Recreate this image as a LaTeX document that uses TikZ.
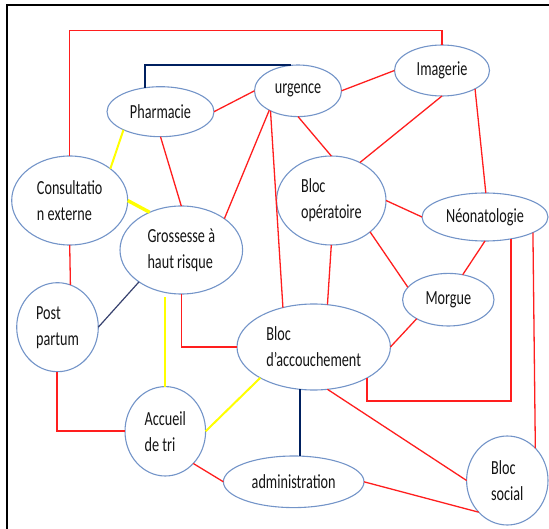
\documentclass[tikz,border=0pt]{standalone}
\usepackage{fontspec}
\setmainfont{Carlito}[FakeStretch=0.71]
\usetikzlibrary{shapes.geometric}
\definecolor{ellc}{RGB}{115,148,200}
\definecolor{redl}{RGB}{255,30,30}
\definecolor{navyl}{RGB}{0,32,96}
\definecolor{slatel}{RGB}{55,65,110}
\definecolor{yell}{RGB}{255,255,0}
\definecolor{txt}{RGB}{20,20,20}
\tikzset{
  ell/.style={ellipse, draw=ellc, line width=1.1pt, inner sep=0pt, outer sep=0pt,
    align=left, text=txt, font=\fontsize{20}{26}\selectfont},
  redline/.style={draw=redl, line width=1.3pt},
  navyline/.style={draw=navyl, line width=2.2pt},
  slateline/.style={draw=slatel, line width=1.2pt},
  yelline/.style={draw=yell, line width=2pt},
  yelthick/.style={draw=yell, line width=3.4pt},
  framel/.style={draw=black, line width=2pt}
}
\begin{document}
\begin{tikzpicture}[x=1pt,y=-1pt]
\useasboundingbox (0,0) rectangle (549,529);
% frame
\draw[framel] (7,529) -- (7,4.7) -- (549,4.7);
% nodes
\node[ell, minimum width=107pt, minimum height=50pt] (pharm) at (160.5,111.7) {Pharmacie};
\node[ell, minimum width=87pt, minimum height=51.6pt] (urg) at (298,90.8) {urgence};
\node[ell, minimum width=95pt, minimum height=51pt] (imag) at (442,70.5) {Imagerie};
\node[ell, minimum width=116pt, minimum height=89pt] (cons) at (69.7,200.5) {Consultatio\\n externe};
\node[ell, minimum width=122.6pt, minimum height=88pt] (gross) at (181.3,250) {Grossesse à\\haut risque};
\node[ell, minimum width=109.4pt, minimum height=89pt] (blocop) at (331.3,200.5) {Bloc\\opératoire};
\node[ell, minimum width=126pt, minimum height=48pt] (neo) at (485,217) {Néonatologie};
\node[ell, minimum width=91.4pt, minimum height=52.6pt] (morg) at (448.3,299.7) {Morgue};
\node[ell, minimum width=81.6pt, minimum height=89pt] (post) at (57.5,327.2) {Post\\partum};
\node[ell, minimum width=153.4pt, minimum height=86pt] (acc) at (313.7,347) {Bloc\\d’accouchement};
\node[ell, minimum width=80.6pt, minimum height=89.4pt] (accu) at (165.3,431.3) {Accueil\\de tri};
\node[ell, minimum width=140.6pt, minimum height=51.6pt] (admin) at (293.7,481.8) {administration};
\node[ell, minimum width=81.4pt, minimum height=89pt] (social) at (507.3,480.5) {Bloc\\social};
% connectors
\draw[redline] (cons.north) -- (cons.north |- 0,30.7) -| (imag.north);
\draw[navyline] (pharm.123) |- (urg.106);
\draw[redline] (pharm.east) -- (urg.west);
\draw[redline] (urg.east) -- (imag.west);
\draw[redline] (urg.214) -- (gross.36);
\draw[redline] (urg.216) -- (acc.128);
\draw[redline] (urg.south) -- (blocop.north);
\draw[redline] (imag.south) -- (blocop.53);
\draw[redline] (imag.-29) -- (neo.88);
\draw[yelline] (pharm.206) -- (cons.38);
\draw[redline] (pharm.south) -- (gross.north);
\draw[yelthick] (cons.east) -- (gross.130);
\draw[redline] (cons.south) -- (post.73);
\draw[slateline] (gross.217) -- (post.east);
\draw[redline] (gross.south) |- (acc.west);
\draw[yelline, shorten >=3pt] (accu.north) -- (accu.north |- gross.south);
\draw[redline] (blocop.south) -- (acc.72);
\draw[redline] (blocop.east) -- (neo.west);
\draw[redline] (blocop.-39.5) -- (morg.163);
\draw[redline] (neo.south) -- (morg.60);
\draw[redline] (morg.211) -- (acc.east);
\draw[redline] (acc.-30) -- ++(0,23.1) -| (neo.-40);
\draw[redline] (neo.-18) -- (social.49);
\draw[redline] ([xshift=-0.5pt]post.south) |- ([yshift=0.3pt]accu.west);
\draw[yelline] (acc.210) -- (accu.east);
\draw[navyline] (acc.252) -- (acc.252 |- admin.north);
\draw[redline] (acc.-72.5) -- (social.west);
\draw[redline] (accu.-49) -- (admin.west);
\draw[redline] (admin.east) -- (social.228);
\end{tikzpicture}
\end{document}
